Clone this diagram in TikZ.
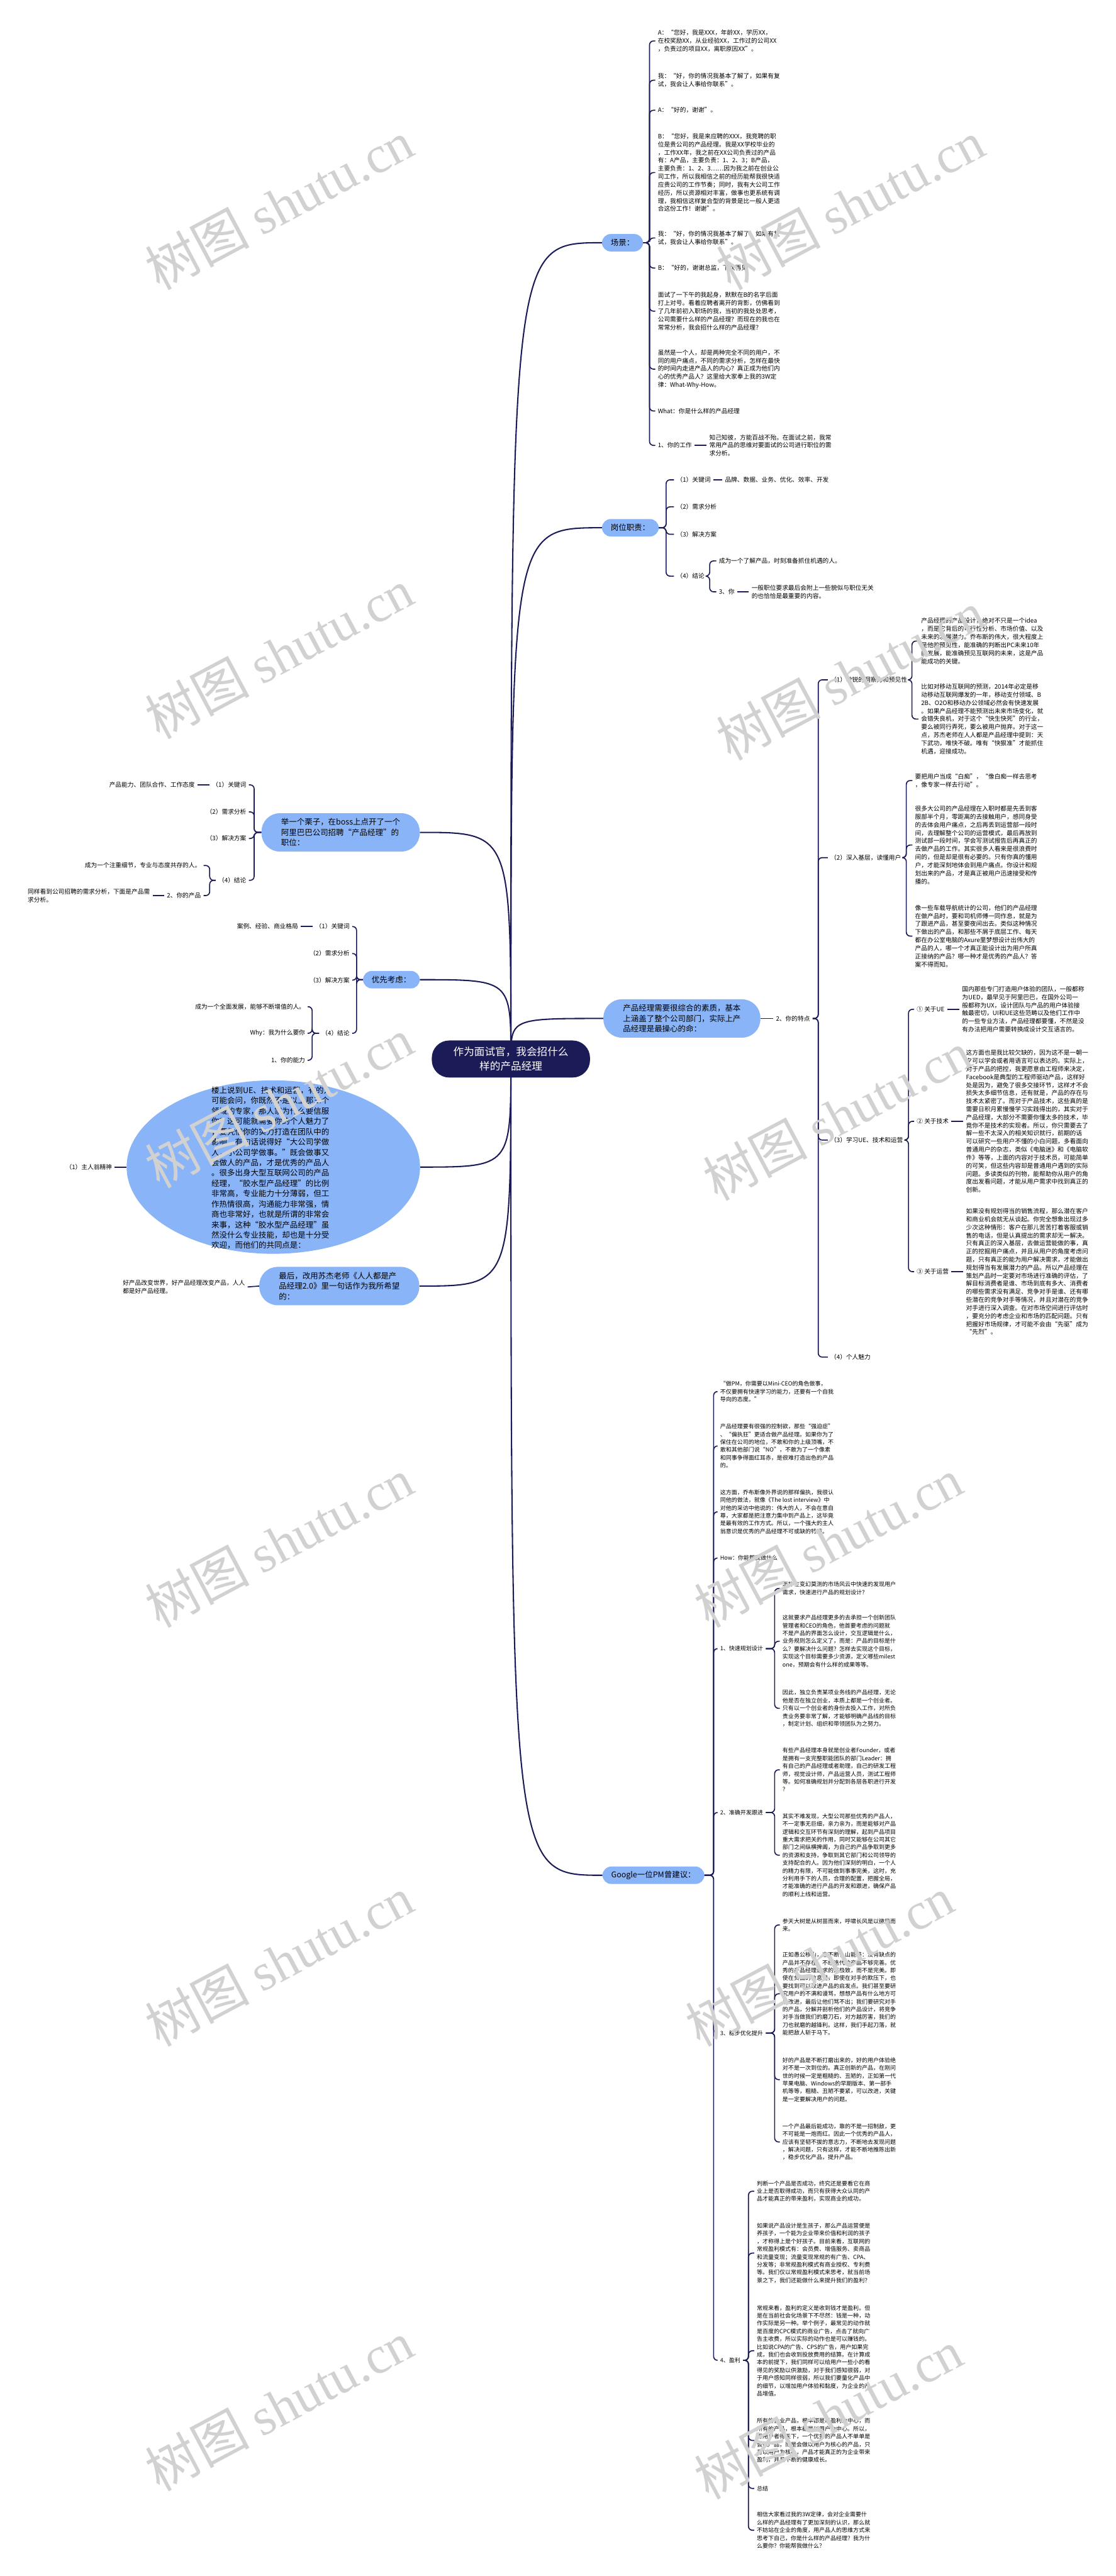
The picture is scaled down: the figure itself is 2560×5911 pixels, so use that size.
\documentclass[tikz,border=0pt]{standalone}
\usepackage{fontspec}
\setmainfont{Noto Sans CJK SC}
\newfontfamily\wmfont{Liberation Serif}
\usetikzlibrary{backgrounds,shapes.geometric}
\definecolor{navy}{RGB}{27,27,87}
\definecolor{topicblue}{RGB}{138,180,248}
\begin{document}
\begin{tikzpicture}[x=1pt,y=-1pt,
    every node/.style={inner sep=0pt},
    trunk/.style={draw=navy,line width=3pt},
    brk/.style={draw=navy,line width=2.4pt,rounded corners=9pt},
    root/.style={fill=navy,text=white,rounded corners=40pt,align=center,
      font=\fontsize{24}{33.5}\selectfont,minimum width=363pt,minimum height=85pt},
    topic/.style={fill=topicblue,rounded corners=20pt,align=left,inner xsep=20pt,
      font=\fontsize{18}{23.7}\selectfont,minimum height=40pt},
    bigtopic/.style={topic,rounded corners=42pt,inner xsep=45pt,minimum height=88pt},
    leaf/.style={align=left,inner xsep=6pt,font=\fontsize{14}{18.5}\selectfont},
    gleaf/.style={leaf,font=\fontsize{13}{17.9}\selectfont},
    wmark/.style={rotate=28,text=black!18,font=\fontsize{120}{120}\selectfont}]
\useasboundingbox (0,0) rectangle (2560,5911);

% centre
\node[root] (ctr) at (1172,2430) {作为面试官，我会招什么\\样的产品经理};

% right: 场景
\node[topic] (scene) at (1428,557) {场景：};
\node[leaf,anchor=west] (s1) at (1503,94) {A：“您好，我是XXX，年龄XX，学历XX，\\在校奖励XX，从业经验XX，工作过的公司XX\\，负责过的项目XX，离职原因XX”。};
\node[leaf,anchor=west] (s2) at (1503,184) {我：“好，你的情况我基本了解了，如果有复\\试，我会让人事给你联系”。};
\node[leaf,anchor=west] (s3) at (1503,253) {A：“好的，谢谢”。};
\node[leaf,anchor=west] (s4) at (1503,396) {B：“您好，我是来应聘的XXX，我竞聘的职\\位是贵公司的产品经理。我是XX学校毕业的\\，工作XX年，我之前在XX公司负责过的产品\\有：A产品，主要负责：1、2、3；B产品，\\主要负责：1、2、3……因为我之前在创业公\\司工作，所以我相信之前的经历能帮我很快适\\应贵公司的工作节奏；同时，我有大公司工作\\经历，所以资源相对丰富，做事也更系统有调\\理，我相信这样复合型的背景是比一般人更适\\合这份工作！谢谢”。};
\node[leaf,anchor=west] (s5) at (1503,546) {我：“好，你的情况我基本了解了，如果有复\\试，我会让人事给你联系”。};
\node[leaf,anchor=west] (s6) at (1503,615) {B：“好的，谢谢总监，下次再见”。};
\node[leaf,anchor=west] (s7) at (1503,714) {面试了一下午的我起身，默默在B的名字后面\\打上对号。看着应聘者离开的背影，仿佛看到\\了几年前初入职场的我，当初的我处处思考，\\公司需要什么样的产品经理？而现在的我也在\\常常分析，我会招什么样的产品经理？};
\node[leaf,anchor=west] (s8) at (1503,847) {虽然是一个人，却是两种完全不同的用户，不\\同的用户痛点，不同的需求分析，怎样在最快\\的时间内走进产品人的内心？真正成为他们内\\心的优秀产品人？这里给大家奉上我的3W定\\律：What-Why-How。};
\node[leaf,anchor=west] (s9) at (1503,943) {What：你是什么样的产品经理};
\node[leaf,anchor=west] (s10) at (1503,1022) {1、你的工作};
\node[leaf,anchor=west] (s10a) at (1621,1022) {知己知彼，方能百战不殆。在面试之前，我常\\常用产品的思维对要面试的公司进行职位的需\\求分析。};

% right: 岗位职责
\node[topic] (duty) at (1446,1211) {岗位职责：};
\node[leaf,anchor=west] (d1) at (1546,1101) {（1）关键词};
\node[leaf,anchor=west] (d1a) at (1657,1101) {品牌、数据、业务、优化、效率、开发};
\node[leaf,anchor=west] (d2) at (1546,1163) {（2）需求分析};
\node[leaf,anchor=west] (d3) at (1546,1226) {（3）解决方案};
\node[leaf,anchor=west] (d4) at (1546,1322) {（4）结论};
\node[leaf,anchor=west] (d4a) at (1643,1287) {成为一个了解产品，时刻准备抓住机遇的人。};
\node[leaf,anchor=west] (d4b) at (1643,1358) {3、你};
\node[leaf,anchor=west] (d4c) at (1718,1358) {一般职位要求最后会附上一些貌似与职位无关\\的也恰恰是最重要的内容。};

% right: 产品经理需要很综合的素质
\node[bigtopic,anchor=west] (trait) at (1384,2337) {产品经理需要很综合的素质，基本\\上涵盖了整个公司部门，实际上产\\品经理是最操心的命：};
\node[leaf,anchor=west] (t0) at (1774,2337) {2、你的特点};
\node[leaf,anchor=west] (t1) at (1899,1560) {（1）敏锐的洞察力和预见性};
\node[leaf,anchor=west] (t1a) at (2107,1471) {产品经理的产品设计，绝对不只是一个idea\\，而是它背后的可行性分析、市场价值、以及\\未来的发展潜力。乔布斯的伟大，很大程度上\\是他的预见性，能准确的判断出PC未来10年\\的发展，能准确预见互联网的未来，这是产品\\能成功的关键。};
\node[leaf,anchor=west] (t1b) at (2107,1650) {比如对移动互联网的预测，2014年必定是移\\动移动互联网爆发的一年，移动支付领域、B\\2B、O2O和移动办公领域必然会有快速发展\\。如果产品经理不能预测出未来市场变化，就\\会错失良机，对于这个“快生快死”的行业，\\要么被同行弄死，要么被用户抛弃。对于这一\\点，苏杰老师在人人都是产品经理中提到：天\\下武功，唯快不破。唯有“快狠准”才能抓住\\机遇，迎接成功。};
\node[leaf,anchor=west] (t2) at (1899,1968) {（2）深入基层，读懂用户};
\node[leaf,anchor=west] (t2a) at (2093,1791) {要把用户当成“白痴”，“像白痴一样去思考\\，像专家一样去行动”。};
\node[leaf,anchor=west] (t2b) at (2093,1939) {很多大公司的产品经理在入职时都是先丢到客\\服部半个月，零距离的去接触用户，感同身受\\的去体会用户痛点，之后再丢到运营部一段时\\间，去理解整个公司的运营模式，最后再放到\\测试部一段时间，学会写测试报告后再真正的\\去做产品的工作。其实很多人看来是很浪费时\\间的，但是却是很有必要的。只有你真的懂用\\户，才能深刻地体会到用户痛点。你设计和规\\划出来的产品，才是真正被用户迅速接受和传\\播的。};
\node[leaf,anchor=west] (t2c) at (2093,2148) {像一些车载导航统计的公司，他们的产品经理\\在做产品时，要和司机师傅一同作息，就是为\\了跟进产品，甚至要夜间出去。类似这种情况\\下做出的产品，和那些不屑于底层工作、每天\\都在办公室电脑的Axure里梦想设计出伟大的\\产品的人，哪一个才真正能设计出为用户所真\\正接纳的产品？哪一种才是优秀的产品人？答\\案不得而知。};
\node[leaf,anchor=west] (t3) at (1899,2616) {（3）学习UE、技术和运营};
\node[leaf,anchor=west] (ue) at (2097,2316) {① 关于UE};
\node[leaf,anchor=west] (ueleaf) at (2201,2316) {国内那些专门打造用户体验的团队，一般都称\\为UED，最早见于阿里巴巴，在国外公司一\\般都称为UX，设计团队与产品的用户体验接\\触最密切，UI和UE这些范畴以及他们工作中\\的一些专业方法，产品经理都要懂，不然是没\\有办法把用户需要转换成设计交互语言的。};
\node[leaf,anchor=west] (tech) at (2097,2573) {② 关于技术};
\node[leaf,anchor=west] (techleaf) at (2210,2573) {这方面也是我比较欠缺的，因为这不是一朝一\\夕可以学会或者用语言可以表达的。实际上，\\对于产品的把控，我更愿意由工程师来决定，\\Facebook是典型的工程师驱动产品，这样好\\处是因为，避免了很多交接环节，这样才不会\\损失太多细节信息，还有就是，产品的存在与\\技术太紧密了。而对于产品技术，这些真的是\\需要日积月累慢慢学习实践得出的，其实对于\\产品经理，大部分不需要你懂太多的技术，毕\\竟你不是技术的实现者。所以，你只需要去了\\解一些不太深入的相关知识就行，前期的话\\可以研究一些用户不懂的小白问题，多看面向\\普通用户的杂志，类似《电脑迷》和《电脑软\\件》等等，上面的内容对于技术员，可能简单\\的可笑，但这些内容却是普通用户遇到的实际\\问题。多读类似的刊物，能帮助你从用户的角\\度出发看问题，才能从用户需求中找到真正的\\创新。};
\node[leaf,anchor=west] (ops) at (2097,2918) {③ 关于运营};
\node[leaf,anchor=west] (opsleaf) at (2210,2918) {如果没有规划得当的销售流程，那么潜在客户\\和商业机会就无从谈起。你完全想象出现过多\\少次这种情形：客户在那儿苦苦打着客服或销\\售的电话，但是认真提出的需求却无一解决。\\只有真正的深入基层，去做运营能做的事，真\\正的挖掘用户痛点，并且从用户的角度考虑问\\题，只有真正的能为用户解决需求，才能做出\\规划得当有发展潜力的产品。所以产品经理在\\策划产品时一定要对市场进行准确的评估，了\\解目标消费者是谁、市场到底有多大、消费者\\的哪些需求没有满足、竞争对手是谁、还有哪\\些潜在的竞争对手等情况，并且对潜在的竞争\\对手进行深入调查。在对市场空间进行评估时\\，要充分的考虑企业和市场的匹配问题。只有\\把握好市场规律，才可能不会由“先驱”成为\\“先烈”。};
\node[leaf,anchor=west] (t4) at (1899,3114) {（4）个人魅力};

% right: Google
\node[topic,anchor=west] (google) at (1382,4303) {Google一位PM曾建议：};
\node[gleaf,anchor=west] (g1) at (1646,3193) {“做PM，你需要以Mini-CEO的角色做事，\\不仅要拥有快速学习的能力，还要有一个自我\\导向的态度。”};
\node[gleaf,anchor=west] (g2) at (1646,3318) {产品经理要有很强的控制欲，那些“强迫症”\\、“偏执狂”更适合做产品经理。如果你为了\\保住在公司的地位，不敢和你的上级顶嘴，不\\敢和其他部门说“NO”，不敢为了一个像素\\和同事争得面红耳赤，是很难打造出色的产品\\的。};
\node[gleaf,anchor=west] (g3) at (1646,3469) {这方面，乔布斯像外界说的那样偏执，我很认\\同他的做法，就像《The lost interview》中\\对他的采访中他说的：伟大的人，不会在意自\\尊，大家都是把注意力集中到产品上，这毕竟\\是最有效的工作方式。所以，一个强大的主人\\翁意识是优秀的产品经理不可或缺的特质。};
\node[gleaf,anchor=west] (g4) at (1646,3575) {How：你能帮我做什么};
\node[gleaf,anchor=west] (g5) at (1646,3783) {1、快速规划设计};
\node[gleaf,anchor=west] (g5a) at (1789,3645) {怎样在变幻莫测的市场风云中快速的发现用户\\需求，快速进行产品的规划设计？};
\node[gleaf,anchor=west] (g5b) at (1789,3766) {这就要求产品经理更多的去承担一个创新团队\\管理者和CEO的角色，他首要考虑的问题就\\不是产品的界面怎么设计，交互逻辑是什么，\\业务规则怎么定义了，而是：产品的目标是什\\么？要解决什么问题？怎样去实现这个目标，\\实现这个目标需要多少资源，定义哪些milest\\one，预期会有什么样的成果等等。};
\node[gleaf,anchor=west] (g5c) at (1789,3920) {因此，独立负责某项业务线的产品经理，无论\\他是否在独立创业，本质上都是一个创业者。\\只有以一个创业者的身份去投入工作，对所负\\责业务要非常了解，才能够明确产品线的目标\\，制定计划、组织和带领团队为之努力。};
\node[gleaf,anchor=west] (g6) at (1646,4159) {2、准确开发跟进};
\node[gleaf,anchor=west] (g6a) at (1789,4061) {有些产品经理本身就是创业者Founder，或者\\是拥有一支完整职能团队的部门Leader：拥\\有自己的产品经理或者助理，自己的研发工程\\师，视觉设计师，产品运营人员，测试工程师\\等。如何准确规划并分配到各层各职进行开发\\？};
\node[gleaf,anchor=west] (g6b) at (1789,4257) {其实不难发现，大型公司那些优秀的产品人，\\不一定事无巨细，亲力亲为，而是能够对产品\\逻辑和交互环节有深刻的理解，起到产品项目\\重大需求把关的作用，同时又能够在公司其它\\部门之间纵横捭阖，为自己的产品争取到更多\\的资源和支持，争取到其它部门和公司领导的\\支持配合的人。因为他们深刻的明白，一个人\\的精力有限，不可能做到事事完美，这时，充\\分利用手下的人员，合理的配置，把握全局，\\才能准确的进行产品的开发和跟进，确保产品\\的顺利上线和运营。};
\node[gleaf,anchor=west] (g7) at (1646,4665) {3、稳步优化提升};
\node[gleaf,anchor=west] (g7a) at (1789,4417) {参天大树是从树苗而来，呼啸长风是以微风而\\来。};
\node[gleaf,anchor=west] (g7b) at (1789,4575) {正如愚公移山，志不断，山能移：没有缺点的\\产品并不存在，不经迭代的产品不够完善。优\\秀的产品经理追求的是极致，而不是完美。即\\使在负面的信息里，即使在对手的欺压下，也\\要找到可以改进产品的启发点。我们甚至要研\\究用户的不满和谩骂，想想产品有什么地方可\\以改进，最后让他们骂不出；我们要研究对手\\的产品，分解并剖析他们的产品设计，将竞争\\对手当做我们的磨刀石，对方越厉害，我们的\\刀也就磨的越锋利。这样，我们手起刀落，就\\能把敌人斩于马下。};
\node[gleaf,anchor=west] (g7c) at (1789,4772) {好的产品是不断打磨出来的，好的用户体验绝\\对不是一次到位的。真正创新的产品，在刚问\\世的时候一定是粗糙的、丑陋的，正如第一代\\苹果电脑、Windows的早期版本、第一部手\\机等等，粗糙、丑陋不要紧，可以改进，关键\\是一定要解决用户的问题。};
\node[gleaf,anchor=west] (g7d) at (1789,4915) {一个产品最后能成功，靠的不是一招制敌，更\\不可能是一炮而红。因此一个优秀的产品人，\\应该有坚韧不拔的意志力，不断地去发现问题\\，解决问题，只有这样，才能不断地推陈出新\\，稳步优化产品，提升产品。};
\node[gleaf,anchor=west] (g8) at (1646,5416) {4、盈利};
\node[gleaf,anchor=west] (g8a) at (1730,5028) {判断一个产品是否成功，终究还是要看它在商\\业上是否取得成功，而只有获得大众认同的产\\品才能真正的带来盈利，实现商业的成功。};
\node[gleaf,anchor=west] (g8b) at (1730,5170) {如果说产品设计是生孩子，那么产品运营便是\\养孩子，一个能为企业带来价值和利润的孩子\\，才称得上是个好孩子。目前来看，互联网的\\常规盈利模式有：会员费、增值服务、卖商品\\和流量变现；流量变现常规的有广告、CPA、\\分发等；非常规盈利模式有商业授权、专利费\\等。我们仅以常规盈利模式来思考，就当前场\\景之下，我们还能做什么来提升我们的盈利？};
\node[gleaf,anchor=west] (g8c) at (1730,5394) {常规来看，盈利的定义是收到钱才是盈利。但\\是在当前社会化场景下不尽然：钱是一种，动\\作实际是另一种。举个例子，最常见的动作就\\是百度的CPC模式的商业广告，点击了就向广\\告主收费，所以实际的动作也是可以赚钱的。\\比如说CPA的广告、CPS的广告，用户如果完\\成，我们也会收到投放费用的结算。在计算成\\本的前提下，我们同样可以给用户一些小的看\\得见的奖励以供激励，对于我们感知很弱，对\\于用户感知同样很弱，所以我们要量化产品中\\的细节，以增加用户体验和黏度，为企业的产\\品增值。};
\node[gleaf,anchor=west] (g8d) at (1730,5600) {所有的企业产品，根本都是以盈利为中心，而\\所有的产品，根本都是以用户为中心。所以，\\得用户者得天下，一个优秀的产品人不单单是\\会做产品，而是会做以用户为核心的产品，只\\有以用户为核心，产品才能真正的为企业带来\\盈利，并且不断的健康成长。};
\node[gleaf,anchor=west] (g8e) at (1730,5710) {总结};
\node[gleaf,anchor=west] (g8f) at (1730,5806) {相信大家看过我的3W定律，会对企业需要什\\么样的产品经理有了更加深刻的认识，那么就\\不妨站在企业的角度，用产品人的思维方式来\\思考下自己，你是什么样的产品经理？我为什\\么要你？你能帮我做什么？};

% left: 阿里巴巴
\node[bigtopic,anchor=east] (ali) at (963,1910) {举一个栗子，在boss上点开了一个\\阿里巴巴公司招聘“产品经理”的\\职位：};
\node[leaf,anchor=east] (a1) at (571,1801) {（1）关键词};
\node[leaf,anchor=east] (a1a) at (453,1801) {产品能力、团队合作、工作态度};
\node[leaf,anchor=east] (a2) at (571,1863) {（2）需求分析};
\node[leaf,anchor=east] (a3) at (571,1924) {（3）解决方案};
\node[leaf,anchor=east] (a4) at (571,2020) {（4）结论};
\node[leaf,anchor=east] (a4a) at (467,1986) {成为一个注重细节，专业与态度共存的人。};
\node[leaf,anchor=east] (a4b) at (467,2055) {2、你的产品};
\node[leaf,anchor=east] (a4c) at (350,2055) {同样看到公司招聘的需求分析，下面是产品需\\求分析。};

% left: 优先考虑
\node[topic,anchor=east] (prior) at (963,2248) {优先考虑：};
\node[leaf,anchor=east] (p1) at (808,2126) {（1）关键词};
\node[leaf,anchor=east] (p1a) at (690,2126) {案例、经验、商业格局};
\node[leaf,anchor=east] (p2) at (808,2188) {（2）需求分析};
\node[leaf,anchor=east] (p3) at (808,2249) {（3）解决方案};
\node[leaf,anchor=east] (p4) at (808,2371) {（4）结论};
\node[leaf,anchor=east] (p4a) at (706,2310) {成为一个全面发展，能够不断增值的人。};
\node[leaf,anchor=east] (p4b) at (706,2371) {Why：我为什么要你};
\node[leaf,anchor=east] (p4c) at (706,2433) {1、你的能力};

% left: 个人魅力
\node[ellipse,fill=topicblue,minimum width=673pt,minimum height=398pt] (charm) at (627,2678) {};
\node[align=left,font=\fontsize{18}{23.7}\selectfont] (charmtext) at (623,2680) {楼上说到UE、技术和运营，有的人\\可能会问，你既然不是以上那三个\\领域的专家，那人家为什么要信服\\你？这可能就需要你的个人魅力了\\，要凭借你的实力打造在团队中的\\影响。有句话说得好“大公司学做\\人，小公司学做事。”既会做事又\\会做人的产品，才是优秀的产品人\\。很多出身大型互联网公司的产品\\经理，“胶水型产品经理”的比例\\非常高，专业能力十分薄弱，但工\\作热情很高，沟通能力非常强，情\\商也非常好，也就是所谓的非常会\\来事，这种“胶水型产品经理”虽\\然没什么专业技能，却也是十分受\\欢迎，而他们的共同点是：};
\node[leaf,anchor=east] (charma) at (263,2678) {（1）主人翁精神};

% left: 最后
\node[bigtopic,anchor=east] (last) at (962,2951) {最后，改用苏杰老师《人人都是产\\品经理2.0》里一句话作为我所希望\\的：};
\node[leaf,anchor=east] (lasta) at (568,2953) {好产品改变世界，好产品经理改变产品，人人\\都是好产品经理。};

\begin{scope}[on background layer]
% trunk lines from the centre
\draw[trunk] (ctr.center) .. controls (ctr.center |- scene.west) and (ctr.center |- scene.west) .. (scene.west);
\draw[trunk] (ctr.center) .. controls (ctr.center |- duty.west) and (ctr.center |- duty.west) .. (duty.west);
\draw[trunk] (ctr.center) .. controls (ctr.center |- trait.west) and (ctr.center |- trait.west) .. (trait.west);
\draw[trunk] (ctr.center) .. controls (ctr.center |- google.west) and (ctr.center |- google.west) .. (google.west);
\draw[trunk] (ctr.center) .. controls (ctr.center |- ali.east) and (ctr.center |- ali.east) .. (ali.east);
\draw[trunk] (ctr.center) .. controls (ctr.center |- prior.east) and (ctr.center |- prior.east) .. (prior.east);
\draw[trunk] (ctr.center) .. controls (ctr.center |- charm.east) and (ctr.center |- charm.east) .. (charm.east);
\draw[trunk] (ctr.center) .. controls (ctr.center |- last.east) and (ctr.center |- last.east) .. (last.east);

% 场景
\draw[brk] (s1.west) -- ++(-13,0) |- (scene.east);
\draw[brk] (s2.west) -- ++(-13,0) |- (scene.east);
\draw[brk] (s3.west) -- ++(-13,0) |- (scene.east);
\draw[brk] (s4.west) -- ++(-13,0) |- (scene.east);
\draw[brk] (s5.west) -- ++(-13,0) |- (scene.east);
\draw[brk] (s6.west) -- ++(-13,0) |- (scene.east);
\draw[brk] (s7.west) -- ++(-13,0) |- (scene.east);
\draw[brk] (s8.west) -- ++(-13,0) |- (scene.east);
\draw[brk] (s9.west) -- ++(-13,0) |- (scene.east);
\draw[brk] (s10.west) -- ++(-13,0) |- (scene.east);
\draw[brk] (s10.east) -- (s10a.west);

% 岗位职责
\draw[brk] (d1.west) -- ++(-18,0) |- (duty.east);
\draw[brk] (d2.west) -- ++(-18,0) |- (duty.east);
\draw[brk] (d3.west) -- ++(-18,0) |- (duty.east);
\draw[brk] (d4.west) -- ++(-18,0) |- (duty.east);
\draw[brk] (d1.east) -- (d1a.west);
\draw[brk] (d4a.west) -- ++(-15,0) |- (d4.east);
\draw[brk] (d4b.west) -- ++(-15,0) |- (d4.east);
\draw[brk] (d4b.east) -- (d4c.west);

% 你的特点
\draw[brk] (trait.east) -- (t0.west);
\draw[brk] (t1.west) -- ++(-22,0) |- (t0.east);
\draw[brk] (t2.west) -- ++(-22,0) |- (t0.east);
\draw[brk] (t3.west) -- ++(-22,0) |- (t0.east);
\draw[brk] (t4.west) -- ++(-22,0) |- (t0.east);
\draw[brk] (t1a.west) -- ++(-15,0) |- (t1.east);
\draw[brk] (t1b.west) -- ++(-15,0) |- (t1.east);
\draw[brk] (t2a.west) -- ++(-14,0) |- (t2.east);
\draw[brk] (t2b.west) -- ++(-14,0) |- (t2.east);
\draw[brk] (t2c.west) -- ++(-14,0) |- (t2.east);
\draw[brk] (ue.west) -- ++(-13,0) |- (t3.east);
\draw[brk] (tech.west) -- ++(-13,0) |- (t3.east);
\draw[brk] (ops.west) -- ++(-13,0) |- (t3.east);
\draw[brk] (ue.east) -- (ueleaf.west);
\draw[brk] (tech.east) -- (techleaf.west);
\draw[brk] (ops.east) -- (opsleaf.west);

% Google
\draw[brk] (g1.west) -- ++(-9,0) |- (google.east);
\draw[brk] (g2.west) -- ++(-9,0) |- (google.east);
\draw[brk] (g3.west) -- ++(-9,0) |- (google.east);
\draw[brk] (g4.west) -- ++(-9,0) |- (google.east);
\draw[brk] (g5.west) -- ++(-9,0) |- (google.east);
\draw[brk] (g6.west) -- ++(-9,0) |- (google.east);
\draw[brk] (g7.west) -- ++(-9,0) |- (google.east);
\draw[brk] (g8.west) -- ++(-9,0) |- (google.east);
\draw[brk] (g5a.west) -- ++(-12,0) |- (g5.east);
\draw[brk] (g5b.west) -- ++(-12,0) |- (g5.east);
\draw[brk] (g5c.west) -- ++(-12,0) |- (g5.east);
\draw[brk] (g6a.west) -- ++(-12,0) |- (g6.east);
\draw[brk] (g6b.west) -- ++(-12,0) |- (g6.east);
\draw[brk] (g7a.west) -- ++(-12,0) |- (g7.east);
\draw[brk] (g7b.west) -- ++(-12,0) |- (g7.east);
\draw[brk] (g7c.west) -- ++(-12,0) |- (g7.east);
\draw[brk] (g7d.west) -- ++(-12,0) |- (g7.east);
\draw[brk] (g8a.west) -- ++(-13,0) |- (g8.east);
\draw[brk] (g8b.west) -- ++(-13,0) |- (g8.east);
\draw[brk] (g8c.west) -- ++(-13,0) |- (g8.east);
\draw[brk] (g8d.west) -- ++(-13,0) |- (g8.east);
\draw[brk] (g8e.west) -- ++(-13,0) |- (g8.east);
\draw[brk] (g8f.west) -- ++(-13,0) |- (g8.east);

% left side
\draw[brk] (a1.east) -- ++(12,0) |- (ali.west);
\draw[brk] (a2.east) -- ++(12,0) |- (ali.west);
\draw[brk] (a3.east) -- ++(12,0) |- (ali.west);
\draw[brk] (a4.east) -- ++(12,0) |- (ali.west);
\draw[brk] (a1.west) -- (a1a.east);
\draw[brk] (a4a.east) -- ++(14,0) |- (a4.west);
\draw[brk] (a4b.east) -- ++(14,0) |- (a4.west);
\draw[brk] (a4b.west) -- (a4c.east);
\draw[brk] (p1.east) -- ++(10,0) |- (prior.west);
\draw[brk] (p2.east) -- ++(10,0) |- (prior.west);
\draw[brk] (p3.east) -- ++(10,0) |- (prior.west);
\draw[brk] (p4.east) -- ++(10,0) |- (prior.west);
\draw[brk] (p1.west) -- (p1a.east);
\draw[brk] (p4a.east) -- ++(10,0) |- (p4.west);
\draw[brk] (p4b.east) -- ++(10,0) |- (p4.west);
\draw[brk] (p4c.east) -- ++(10,0) |- (p4.west);
\draw[brk] (charm.west) -- (charma.east);
\draw[brk] (last.west) -- (lasta.east);
\end{scope}

% watermarks
\node[wmark] (wm1) at (640,470) {树图 {\wmfont shutu.cn}};
\node[wmark] (wm2) at (1950,470) {树图 {\wmfont shutu.cn}};
\node[wmark] (wm3) at (640,1500) {树图 {\wmfont shutu.cn}};
\node[wmark] (wm4) at (1950,1550) {树图 {\wmfont shutu.cn}};
\node[wmark] (wm5) at (640,2530) {树图 {\wmfont shutu.cn}};
\node[wmark] (wm6) at (1920,2560) {树图 {\wmfont shutu.cn}};
\node[wmark] (wm7) at (640,3540) {树图 {\wmfont shutu.cn}};
\node[wmark] (wm8) at (1900,3540) {树图 {\wmfont shutu.cn}};
\node[wmark] (wm9) at (640,4500) {树图 {\wmfont shutu.cn}};
\node[wmark] (wm10) at (1880,4500) {树图 {\wmfont shutu.cn}};
\node[wmark] (wm11) at (640,5520) {树图 {\wmfont shutu.cn}};
\node[wmark] (wm12) at (1900,5540) {树图 {\wmfont shutu.cn}};
\end{tikzpicture}
\end{document}
